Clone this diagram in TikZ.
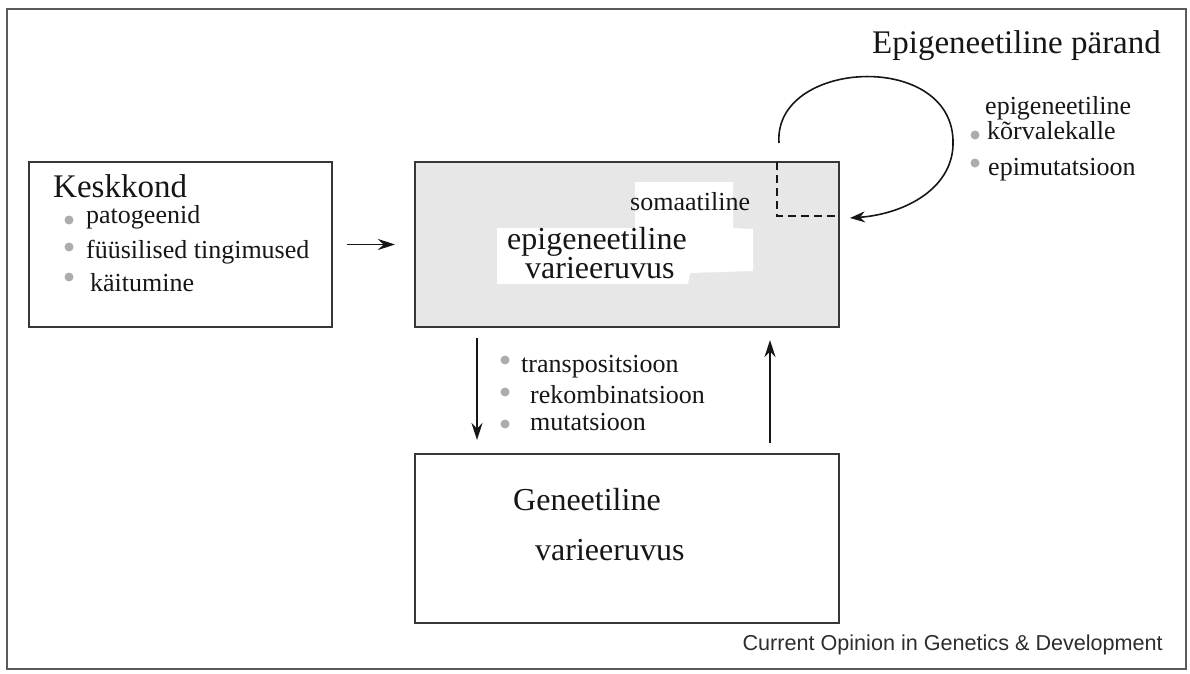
\documentclass[tikz,border=0pt]{standalone}
\usepackage{fontspec}
\setmainfont{Liberation Serif}
\setsansfont{Liberation Sans}
\usetikzlibrary{positioning,arrows.meta}
\definecolor{FrameGray}{RGB}{90,90,90}
\definecolor{BoxGray}{RGB}{55,55,55}
\definecolor{ShadeGray}{RGB}{231,231,231}
\definecolor{DotGray}{RGB}{172,172,172}
\definecolor{InkBlack}{RGB}{22,22,22}
\definecolor{CaptionGray}{RGB}{45,45,45}
\tikzset{
  mainbox/.style={
    draw=BoxGray,
    line width=1.8pt,
    minimum width=424pt,
    minimum height=165pt,
    inner sep=0pt,
    outer sep=0pt
  },
  label/.style={inner sep=0pt, anchor=base west, text=InkBlack},
  headfont/.style={font=\fontsize{33pt}{33pt}\selectfont},
  varfont/.style={font=\fontsize{32pt}{32pt}\selectfont},
  itemfont/.style={font=\fontsize{26pt}{26pt}\selectfont},
  dot/.style={fill=DotGray},
  flowarrow/.style={-{Stealth[length=17pt,width=11pt]},line width=1.6pt,draw=InkBlack},
  dashline/.style={line width=1.6pt,draw=InkBlack,dash pattern=on 8pt off 5pt},
  caption/.style={inner sep=0pt, anchor=base east, text=CaptionGray,
    font=\sffamily\fontsize{21.6pt}{21.6pt}\selectfont}
}
\begin{document}
\begin{tikzpicture}[x=1pt,y=-1pt]
    \useasboundingbox (0,0) rectangle (1190,673);
    \draw[FrameGray,line width=2pt] (7,9) rectangle (1186,669);

    \node[mainbox,fill=ShadeGray] (epibox) at (627,244.5) {};
    \node[mainbox,minimum width=303pt,left=83pt of epibox] (keskkond) {};
    \node[mainbox,minimum height=169pt,below=127pt of epibox] (genbox) {};

    \fill[white] (497,228) -- (635,228) -- (635,182) -- (733,182) -- (733,228) -- (753,229)
      -- (753,271) -- (690,273) -- (688,284) -- (497,284) -- cycle;

    \node[label,headfont] (kesktitle) at (53,197) {Keskkond};
    \fill[dot] (69,220) circle (4.5pt);
    \node[label,itemfont] (patogeenid) at (86,223) {patogeenid};
    \fill[dot] (69,247) circle (4.5pt);
    \node[label,itemfont] (fyysilised) at (86,258) {füüsilised tingimused};
    \fill[dot] (69,277) circle (4.5pt);
    \node[label,itemfont] (kaitumine) at (90,291) {käitumine};

    \node[label,itemfont] (somaatiline) at (630,210) {somaatiline};
    \node[label,varfont] (epititle) at (507,249) {epigeneetiline};
    \node[label,varfont] (epivar) at (525,278) {varieeruvus};

    \node[label,varfont] (gentitle) at (513,510) {Geneetiline};
    \node[label,varfont] (genvar) at (535,560) {varieeruvus};

    \fill[dot] (505,360) circle (4.5pt);
    \node[label,itemfont] (transpos) at (521,372) {transpositsioon};
    \fill[dot] (505,392) circle (4.5pt);
    \node[label,itemfont] (rekomb) at (530,403) {rekombinatsioon};
    \fill[dot] (505,424) circle (4.5pt);
    \node[label,itemfont] (mutats) at (530,430) {mutatsioon};

    \node[label,headfont] (parand) at (872,53) {Epigeneetiline pärand};
    \node[label,itemfont] (korv1) at (985,114) {epigeneetiline};
    \fill[dot] (975,135) circle (4.5pt);
    \node[label,itemfont] (korv2) at (987,139) {kõrvalekalle};
    \fill[dot] (975,163) circle (4.5pt);
    \node[label,itemfont] (epimut) at (988,175) {epimutatsioon};

    \node[caption] (source) at (1163,650) {Current Opinion in Genetics \& Development};

    \coordinate (somcorner) at (777,216);
    \coordinate (loopstart) at (779,143);
    \draw[dashline] (somcorner |- epibox.north) -- (somcorner) -- (somcorner -| epibox.east);

    \draw[flowarrow,shorten <=15pt,shorten >=20pt] (keskkond) -- (epibox);
    \draw[flowarrow,shorten <=11pt,shorten >=14pt] ([xshift=-150pt]epibox.south) -- ([xshift=-150pt]genbox.north);
    \draw[flowarrow,shorten <=11pt,shorten >=13pt] ([xshift=143pt]genbox.north) -- ([xshift=143pt]epibox.south);
    \draw[flowarrow,-{Stealth[length=15pt,width=11pt]}] (loopstart) .. controls (773,60) and (950,50) .. (953,140)
      .. controls (955,188) and (905,214) .. ([xshift=11pt,yshift=-2pt]somcorner -| epibox.east);
\end{tikzpicture}
\end{document}
